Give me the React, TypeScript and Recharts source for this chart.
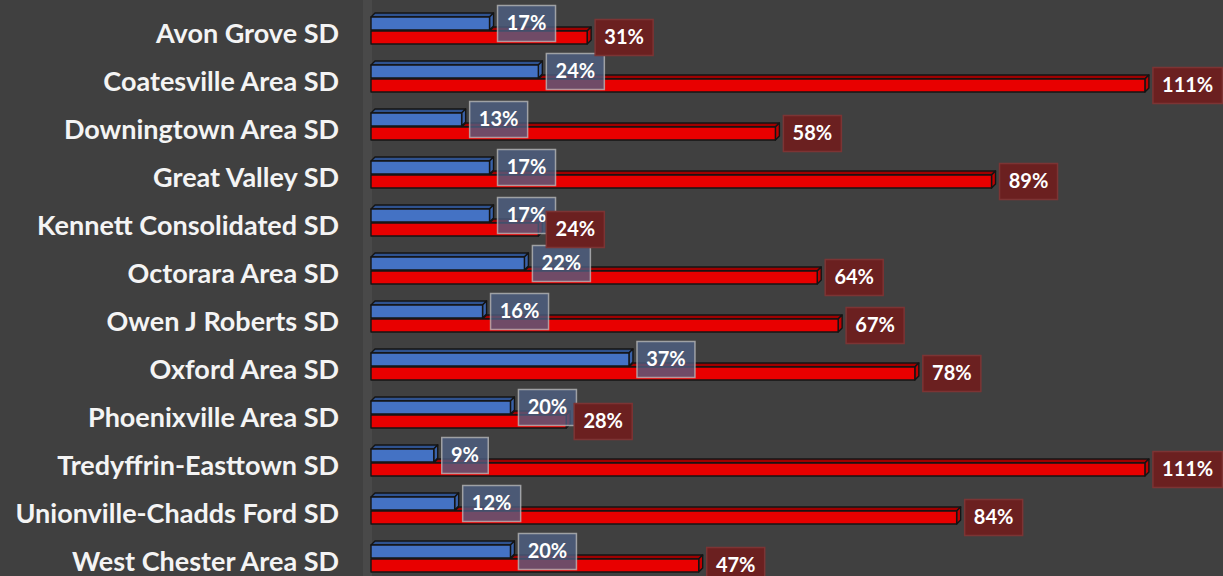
import { BarChart, Bar, XAxis, YAxis, LabelList } from "recharts";

const districts = [
  "Avon Grove SD",
  "Coatesville Area SD",
  "Downingtown Area SD",
  "Great Valley SD",
  "Kennett Consolidated SD",
  "Octorara Area SD",
  "Owen J Roberts SD",
  "Oxford Area SD",
  "Phoenixville Area SD",
  "Tredyffrin-Easttown SD",
  "Unionville-Chadds Ford SD",
  "West Chester Area SD",
];
const blueRates = [17, 24, 13, 17, 17, 22, 16, 37, 20, 9, 12, 20];
const redRates = [31, 111, 58, 89, 24, 64, 67, 78, 28, 111, 84, 47];

const data = districts.map((name, i) => ({ name, blue: blueRates[i], red: redRates[i] }));

const DEPTH = 4;
const FONT = "Lato, 'Open Sans', sans-serif";

function Bar3D(props: any) {
  const { x, y, width, height, front, topFace, side, startX } = props;
  if (width == null || width <= 0) return null;
  const sx = startX ?? x;
  const d = DEPTH;
  return (
    <g stroke="#141414" strokeWidth={1.4} strokeLinejoin="round">
      {x + width > sx && (
        <polygon
          points={`${sx},${y} ${sx + d},${y - d} ${x + width + d},${y - d} ${x + width},${y}`}
          fill={topFace}
        />
      )}
      <polygon
        points={`${x + width},${y} ${x + width + d},${y - d} ${x + width + d},${y + height - d} ${x + width},${y + height}`}
        fill={side}
      />
      <rect x={x} y={y} width={width} height={height} fill={front} />
    </g>
  );
}

function BlueShape(props: any) {
  return <Bar3D {...props} front="#4472C4" topFace="#2f528f" side="#3a62a8" />;
}

function RedShape(props: any) {
  const { x, width, payload } = props;
  const blueEnd = payload && payload.red ? x + (width / payload.red) * payload.blue : x;
  return <Bar3D {...props} front="#E80000" topFace="#a00000" side="#c00000" startX={blueEnd} />;
}

function textWidth(s: string) {
  let w = 0;
  for (const c of s) w += c === "%" ? 17 : 11.5;
  return w;
}

function makeLabel(fill: string, stroke: string) {
  return (props: any) => {
    const { x, y, width, height, value } = props;
    const txt = `${value}%`;
    const w = textWidth(txt) + 18;
    const h = 36;
    const bx = x + width + DEPTH + 4;
    const cy = y + height / 2;
    return (
      <g>
        <rect x={bx} y={cy - h / 2} width={w} height={h} fill={fill} stroke={stroke} strokeWidth={1.5} />
        <text
          x={bx + w / 2}
          y={cy + 1}
          textAnchor="middle"
          dominantBaseline="middle"
          fill="#ffffff"
          fontFamily={FONT}
          fontWeight={700}
          fontSize={20}
        >
          {txt}
        </text>
      </g>
    );
  };
}

function CategoryTick(props: any) {
  const { x, y, payload } = props;
  return (
    <text
      x={x - 24}
      y={y + 6}
      textAnchor="end"
      dominantBaseline="middle"
      fill="#f4f4f4"
      fontFamily={FONT}
      fontWeight={700}
      fontSize={27}
    >
      {payload.value}
    </text>
  );
}

export default function App() {
  return (
    <div
      style={{
        position: "absolute",
        left: 0,
        top: 0,
        width: 1223,
        height: 576,
        overflow: "hidden",
        background: "#404040",
      }}
    >
      <div
        style={{
          position: "absolute",
          left: 363,
          top: 0,
          width: 9,
          height: 576,
          background: "#494949",
        }}
      />
      <BarChart
        width={1223}
        height={582}
        data={data}
        layout="vertical"
        margin={{ top: 6, right: 0, bottom: 0, left: 0 }}
        barSize={13}
        barGap={1}
      >
        <XAxis type="number" domain={[0, 122.2]} hide />
        <YAxis
          type="category"
          dataKey="name"
          width={371}
          axisLine={false}
          tickLine={false}
          tick={<CategoryTick />}
          interval={0}
        />
        <Bar dataKey="blue" shape={<BlueShape />} isAnimationActive={false}>
          <LabelList dataKey="blue" content={makeLabel("rgba(78,96,132,0.78)", "rgba(190,190,190,0.75)")} />
        </Bar>
        <Bar dataKey="red" shape={<RedShape />} isAnimationActive={false}>
          <LabelList dataKey="red" content={makeLabel("#6b2020", "#7c3434")} />
        </Bar>
      </BarChart>
    </div>
  );
}
